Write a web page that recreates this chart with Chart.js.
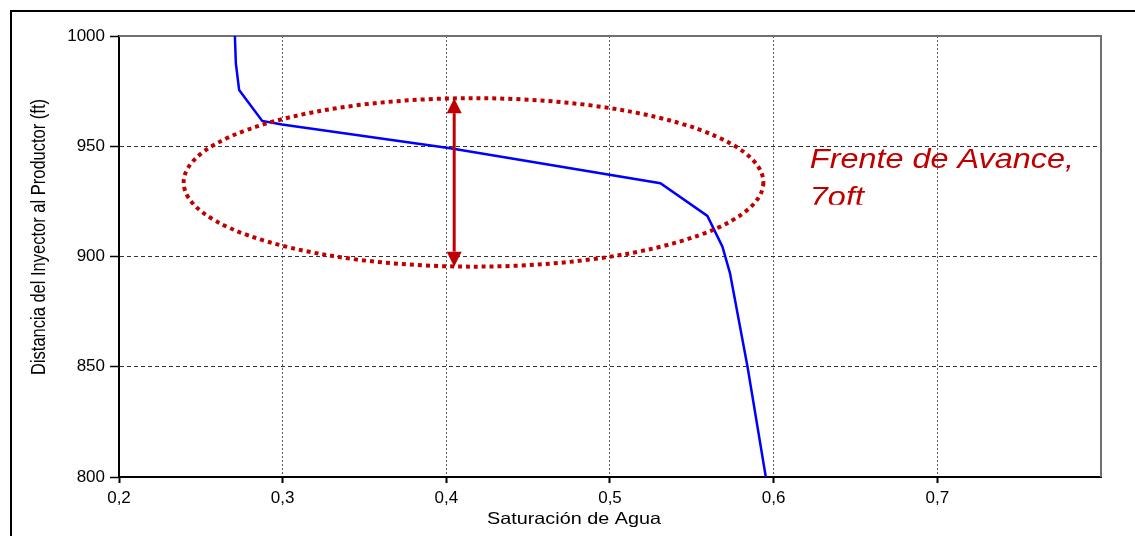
<!DOCTYPE html>
<html>
<head>
<meta charset="utf-8">
<script src="https://cdn.jsdelivr.net/npm/chart.js@4.4.1/dist/chart.umd.min.js"></script>
<style>
  html, body { margin: 0; padding: 0; background: #fff; }
  #wrap { width: 1135px; height: 536px; }
</style>
</head>
<body>
<div id="wrap"><canvas id="satChart" width="1135" height="536"></canvas></div>
<script>
// Water saturation profile between injector and producer
const saturation = [0.2708, 0.2714, 0.2734, 0.2875, 0.2996, 0.4024, 0.5308, 0.5595, 0.5687, 0.5733, 0.5840, 0.5952];
const distance   = [1000, 987.6, 975.5, 961.5, 959.9, 949.1, 933.2, 918.4, 904.5, 892.5, 850.1, 800];

const xTicks = [0.2, 0.3, 0.4, 0.5, 0.6, 0.7];
const yTicks = [800, 850, 900, 950, 1000];

// Flood front marker: ellipse, thickness arrow and note
const frontCenter = [0.4166, 933.6];
const frontRadius = [0.1771, 38.2];
const frontArrowX = 0.4048;
const frontArrowY = [895.4, 971.8];
const frontLabelAt = [0.6221, 940.3];
const frontLabel = ['Frente de Avance,', '7oft'];

const xTitle = 'Saturación de Agua';
const yTitle = 'Distancia del Inyector al Productor (ft)';

const FONT = "'Liberation Sans', Arial, sans-serif";
const RED = '#c00000';
const STRETCH = 1.2; // text is drawn a little wider than tall

function drawWide(ctx, text, x, y, font, color, align, angle) {
    ctx.save();
    ctx.translate(x, y);
    ctx.scale(STRETCH, 1);
    if (angle) ctx.rotate(angle);
    ctx.font = font;
    ctx.fillStyle = color;
    ctx.textAlign = align;
    ctx.textBaseline = 'alphabetic';
    ctx.fillText(text, 0, 0);
    ctx.restore();
}

const overlay = {
    id: 'overlay',
    beforeDraw(chart) {
        const ctx = chart.ctx;
        ctx.save();
        ctx.fillStyle = '#fff';
        ctx.fillRect(0, 0, chart.width, chart.height);
        // outer frame, only top and left edges fall inside the canvas
        ctx.strokeStyle = '#000';
        ctx.lineWidth = 2;
        ctx.beginPath();
        ctx.moveTo(11, chart.height);
        ctx.lineTo(11, 11);
        ctx.lineTo(chart.width, 11);
        ctx.stroke();
        ctx.restore();
    },
    beforeDatasetsDraw(chart) {
        const { ctx, chartArea: a } = chart;
        ctx.save();
        ctx.strokeStyle = '#707070';
        ctx.lineWidth = 2;
        ctx.beginPath();
        ctx.moveTo(a.left, a.top);
        ctx.lineTo(a.right, a.top);
        ctx.lineTo(a.right, a.bottom);
        ctx.stroke();
        ctx.restore();
    },
    afterDatasetsDraw(chart) {
        const { ctx, scales: { x, y } } = chart;

        // dotted ellipse around the front
        const cx = x.getPixelForValue(frontCenter[0]);
        const cy = y.getPixelForValue(frontCenter[1]);
        const rx = x.getPixelForValue(frontCenter[0] + frontRadius[0]) - cx;
        const ry = cy - y.getPixelForValue(frontCenter[1] + frontRadius[1]);
        ctx.save();
        ctx.strokeStyle = RED;
        ctx.lineWidth = 4;
        ctx.setLineDash([4, 4]);
        ctx.beginPath();
        ctx.ellipse(cx, cy, rx, ry, 0, 0, Math.PI * 2);
        ctx.stroke();
        ctx.restore();

        // double headed arrow
        const ax = x.getPixelForValue(frontArrowX);
        const yLow = y.getPixelForValue(frontArrowY[0]);
        const yHigh = y.getPixelForValue(frontArrowY[1]);
        const head = 15, half = 7.5;
        ctx.save();
        ctx.strokeStyle = RED;
        ctx.fillStyle = RED;
        ctx.lineWidth = 3;
        ctx.beginPath();
        ctx.moveTo(ax, yHigh + head);
        ctx.lineTo(ax, yLow - head);
        ctx.stroke();
        ctx.beginPath();
        ctx.moveTo(ax, yHigh);
        ctx.lineTo(ax - half, yHigh + head);
        ctx.lineTo(ax + half, yHigh + head);
        ctx.closePath();
        ctx.fill();
        ctx.beginPath();
        ctx.moveTo(ax, yLow);
        ctx.lineTo(ax - half, yLow - head);
        ctx.lineTo(ax + half, yLow - head);
        ctx.closePath();
        ctx.fill();
        ctx.restore();

        // note, second line is cut by its text box
        const lx = x.getPixelForValue(frontLabelAt[0]);
        const ly = y.getPixelForValue(frontLabelAt[1]);
        ctx.save();
        ctx.beginPath();
        ctx.rect(0, 0, chart.width, ly + 37);
        ctx.clip();
        frontLabel.forEach((line, i) => {
            drawWide(ctx, line, lx, ly + i * 38.4, 'italic 27px ' + FONT, RED, 'left');
        });
        ctx.restore();
    },
    afterDraw(chart) {
        const { ctx, chartArea: a } = chart;
        drawWide(ctx, xTitle, 574, 524, '16.5px ' + FONT, '#000', 'center');
        drawWide(ctx, yTitle, 45, 237, '16.5px ' + FONT, '#000', 'center', -Math.PI / 2);
    }
};

const hideEdge = (edge) => (c) => (c.tick && c.tick.value === edge ? 'rgba(0,0,0,0)' : '#5a5a5a');

new Chart(document.getElementById('satChart'), {
    type: 'scatter',
    data: {
        datasets: [{
            data: saturation.map((s, i) => ({ x: s, y: distance[i] })),
            showLine: true,
            borderColor: '#0000ff',
            borderWidth: 2.5,
            pointRadius: 0,
            tension: 0
        }]
    },
    options: {
        responsive: false,
        animation: false,
        devicePixelRatio: 1,
        layout: { padding: { top: 36, right: 34, left: 0, bottom: 0 } },
        plugins: {
            legend: { display: false },
            tooltip: { enabled: false }
        },
        scales: {
            x: {
                type: 'linear',
                min: 0.2,
                max: 0.8,
                afterBuildTicks: (s) => { s.ticks = xTicks.map(v => ({ value: v })); },
                afterFit: (s) => { s.height = 59; },
                ticks: {
                    font: { family: FONT, size: 17 },
                    color: '#000',
                    padding: 5,
                    maxRotation: 0,
                    callback: (v) => v.toFixed(1).replace('.', ',')
                },
                grid: {
                    color: hideEdge(0.2),
                    lineWidth: 1,
                    tickLength: 6,
                    tickColor: '#000',
                    tickWidth: 2,
                    tickBorderDash: []
                },
                border: { color: '#000', width: 2, dash: [2, 2] }
            },
            y: {
                type: 'linear',
                min: 800,
                max: 1000,
                afterBuildTicks: (s) => { s.ticks = yTicks.map(v => ({ value: v })); },
                afterFit: (s) => { s.width = 119; },
                ticks: {
                    font: { family: FONT, size: 17 },
                    color: '#000',
                    padding: 5,
                    callback: (v) => String(v)
                },
                grid: {
                    color: (c) => (c.tick && (c.tick.value === 800 || c.tick.value === 1000) ? 'rgba(0,0,0,0)' : '#333'),
                    lineWidth: 1,
                    tickLength: 9,
                    tickColor: '#000',
                    tickWidth: 1.5,
                    tickBorderDash: []
                },
                border: { color: '#000', width: 2, dash: [4, 3] }
            }
        }
    },
    plugins: [overlay]
});
</script>
</body>
</html>
